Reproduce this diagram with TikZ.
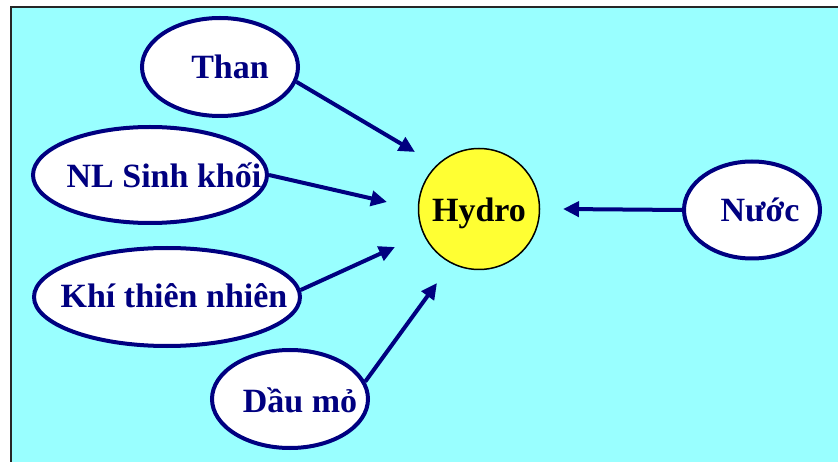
\documentclass[tikz,border=0pt]{standalone}
\usepackage{fontspec}
\setmainfont{Liberation Serif}
\usetikzlibrary{shapes.geometric,arrows.meta}
\definecolor{bgcyan}{HTML}{99FFFF}
\definecolor{navyc}{HTML}{000080}
\definecolor{hyel}{HTML}{FFFF33}
\tikzset{
  src/.style={ellipse,draw=navyc,line width=4pt,fill=white,inner sep=0pt},
  lbl/.style={anchor=base,text=navyc,font=\fontsize{34}{37}\selectfont\bfseries,inner sep=0pt},
  arr/.style={draw=navyc,line width=4pt,-{Triangle[length=16pt,width=15pt]}}
}
\begin{document}
\begin{tikzpicture}[x=1pt,y=-1pt]
\useasboundingbox (0,0) rectangle (838,462);
\fill[white] (0,0) rectangle (838,462);
\fill[bgcyan] (11,7) rectangle (838,462);
\draw[line width=2pt,black!85] (11,462) -- (11,7) -- (838,7);
% nodes
\node[src,minimum width=156pt,minimum height=98pt] (than) at (220,67) {};
\node[src,minimum width=234pt,minimum height=96pt] (nl) at (150,175) {};
\node[src,minimum width=266pt,minimum height=98pt] (khi) at (167,297) {};
\node[src,minimum width=156pt,minimum height=98pt] (dau) at (290,399) {};
\node[src,minimum width=136pt,minimum height=97pt] (nuoc) at (752,210) {};
\node[circle,draw=black,line width=1.5pt,fill=hyel,minimum size=121pt,inner sep=0pt] (hydro) at (479,209) {};
% labels
\node[lbl] (thanl) at (230,79) {Than};
\node[lbl] (nll) at (164,188) {NL Sinh khối};
\node[lbl] (khil) at (174,308) {Khí thiên nhiên};
\node[lbl] (daul) at (300,412) {Dầu mỏ};
\node[lbl,text=black] (hydrol) at (479,222) {Hydro};
\node[lbl] (nuocl) at (760,222) {Nước};
% arrow tips
\coordinate (t1) at (415,152);
\coordinate (t2) at (387,202);
\coordinate (t3) at (395,247);
\coordinate (t4) at (437,283);
\coordinate (t5) at (563,209);
\draw[arr] (than.-11) -- (t1);
\draw[arr] (nl.east) -- (t2);
\draw[arr] (khi.3) -- (t3);
\draw[arr] (dau.13) -- (t4);
\draw[arr] (nuoc.west) -- (t5);
\end{tikzpicture}
\end{document}
